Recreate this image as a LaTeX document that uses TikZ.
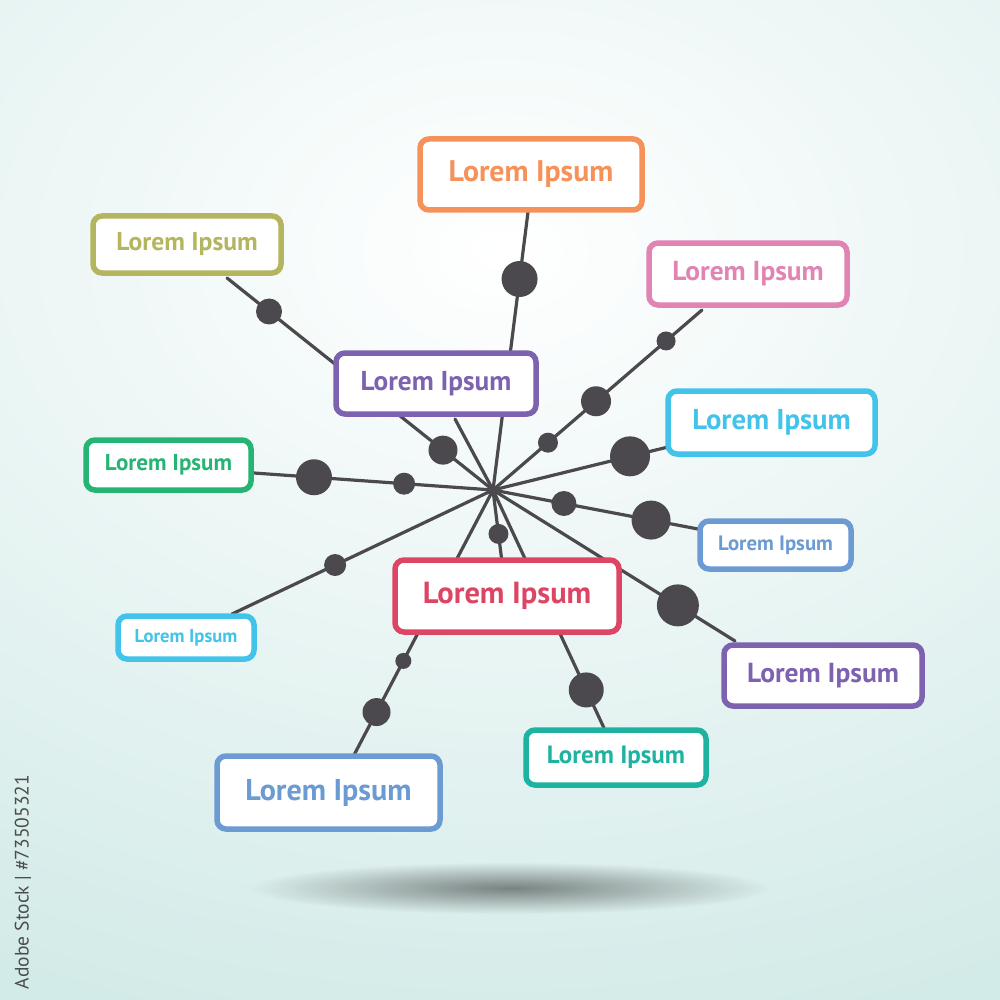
\documentclass[tikz,border=0pt]{standalone}
\usepackage{fontspec}
\setmainfont{PT Sans}
\usetikzlibrary{calc,fadings,shadows}
\definecolor{bgc}{HTML}{D3EBE8}
\definecolor{linec}{HTML}{4B494E}
\definecolor{cOrange}{HTML}{F59159}
\definecolor{cOlive}{HTML}{B3B55F}
\definecolor{cPink}{HTML}{E184B3}
\definecolor{cPurple}{HTML}{7C62AF}
\definecolor{cCyan}{HTML}{42C3EA}
\definecolor{cGreen}{HTML}{26B474}
\definecolor{cBlue}{HTML}{6B9BD2}
\definecolor{cRed}{HTML}{DC4664}
\definecolor{cTeal}{HTML}{1EB3A1}
\tikzfading[name=softshadow, inner color=transparent!55, outer color=transparent!100]
\tikzset{
  box/.style={draw=#1, text=#1, fill=white, line width=5.5, rounded corners=9,
    inner sep=0pt, drop shadow={opacity=0.12, shadow xshift=1pt, shadow yshift=-2pt}},
  conn/.style={draw=linec, line width=3.2, line cap=round},
  dotn/.style={circle, fill=linec, inner sep=0pt, minimum size=#1}
}
\newcommand{\fs}[1]{\fontsize{#1}{#1}\selectfont\bfseries}
\begin{document}
\begin{tikzpicture}[x=1pt,y=-1pt]
\useasboundingbox (0,0) rectangle (1000,1000);
% background
\fill[bgc] (0,0) rectangle (1000,1000);
\begin{scope}
\clip (0,0) rectangle (1000,1000);
\shade[inner color=white, outer color=bgc] (-600,-550) rectangle (1600,1050);
\fill[black, path fading=softshadow] (250,862) rectangle (770,914);
\end{scope}
% watermark
\node[rotate=90, text=black!70, font=\fontsize{19.5}{19.5}\selectfont] (wm) at (23,882) {Adobe Stock | \#73505321};
% hub and endpoints
\coordinate (H) at (493,490);
\coordinate (eOrange) at (528,212);
\coordinate (eOlive) at (227,278);
\coordinate (ePink) at (702,310);
\coordinate (ePurpleU) at (455,419);
\coordinate (eCyanR) at (668,447);
\coordinate (eGreen) at (254,473);
\coordinate (eBlueR) at (698,529);
\coordinate (eRed) at (502,562);
\coordinate (eCyanL) at (232,614);
\coordinate (ePurpleL) at (735,641);
\coordinate (eTeal) at (604,728);
\coordinate (eBlueL) at (354,755);
% connectors
\foreach \e in {eOrange,eOlive,ePink,ePurpleU,eCyanR,eGreen,eBlueR,eRed,eCyanL,ePurpleL,eTeal,eBlueL}
  \draw[conn] (H) -- (\e);
% dots
\node[dotn=36] (d1) at ($(H)!0.759!(eOrange)$) {};
\node[dotn=26] (d2) at ($(H)!0.842!(eOlive)$) {};
\node[dotn=29] (d3) at ($(H)!0.188!(eOlive)$) {};
\node[dotn=19] (d4) at ($(H)!0.828!(ePink)$) {};
\node[dotn=30] (d5) at ($(H)!0.493!(ePink)$) {};
\node[dotn=20] (d6) at ($(H)!0.263!(ePink)$) {};
\node[dotn=40] (d7) at ($(H)!0.783!(eCyanR)$) {};
\node[dotn=36] (d8) at ($(H)!0.749!(eGreen)$) {};
\node[dotn=22] (d9) at ($(H)!0.372!(eGreen)$) {};
\node[dotn=25] (d10) at ($(H)!0.346!(eBlueR)$) {};
\node[dotn=39] (d11) at ($(H)!0.771!(eBlueR)$) {};
\node[dotn=20] (d12) at ($(H)!0.61!(eRed)$) {};
\node[dotn=22] (d13) at ($(H)!0.605!(eCyanL)$) {};
\node[dotn=42] (d14) at ($(H)!0.764!(ePurpleL)$) {};
\node[dotn=35] (d15) at ($(H)!0.84!(eTeal)$) {};
\node[dotn=28] (d16) at ($(H)!0.838!(eBlueL)$) {};
\node[dotn=16] (d17) at ($(H)!0.645!(eBlueL)$) {};
% boxes
\node[box=cOrange, minimum width=222, minimum height=71, font=\fs{29.8}] (bOrange) at (531,174.5) {Lorem Ipsum};
\node[box=cOlive, minimum width=188, minimum height=57, font=\fs{25.6}] (bOlive) at (187,244.5) {Lorem Ipsum};
\node[box=cPink, minimum width=198, minimum height=62, font=\fs{27.4}] (bPink) at (748,274) {Lorem Ipsum};
\node[box=cPurple, minimum width=200, minimum height=61, font=\fs{27.3}] (bPurpleU) at (436,383.5) {Lorem Ipsum};
\node[box=cCyan, minimum width=207, minimum height=63, font=\fs{28.7}] (bCyanR) at (771.5,422.5) {Lorem Ipsum};
\node[box=cGreen, minimum width=165, minimum height=50, font=\fs{23}] (bGreen) at (168.5,465) {Lorem Ipsum};
\node[box=cBlue, minimum width=151, minimum height=48, font=\fs{20.8}] (bBlueR) at (775.5,545) {Lorem Ipsum};
\node[box=cRed, minimum width=224, minimum height=72, font=\fs{30.5}] (bRed) at (507,596) {Lorem Ipsum};
\node[box=cCyan, minimum width=136, minimum height=43, font=\fs{18.6}] (bCyanL) at (186,637.5) {Lorem Ipsum};
\node[box=cPurple, minimum width=198, minimum height=61, font=\fs{27.5}] (bPurpleL) at (823,675.5) {Lorem Ipsum};
\node[box=cTeal, minimum width=180, minimum height=55, font=\fs{25}] (bTeal) at (616,757.5) {Lorem Ipsum};
\node[box=cBlue, minimum width=223, minimum height=73, font=\fs{30.1}] (bBlueL) at (328.5,792.5) {Lorem Ipsum};
\end{tikzpicture}
\end{document}
